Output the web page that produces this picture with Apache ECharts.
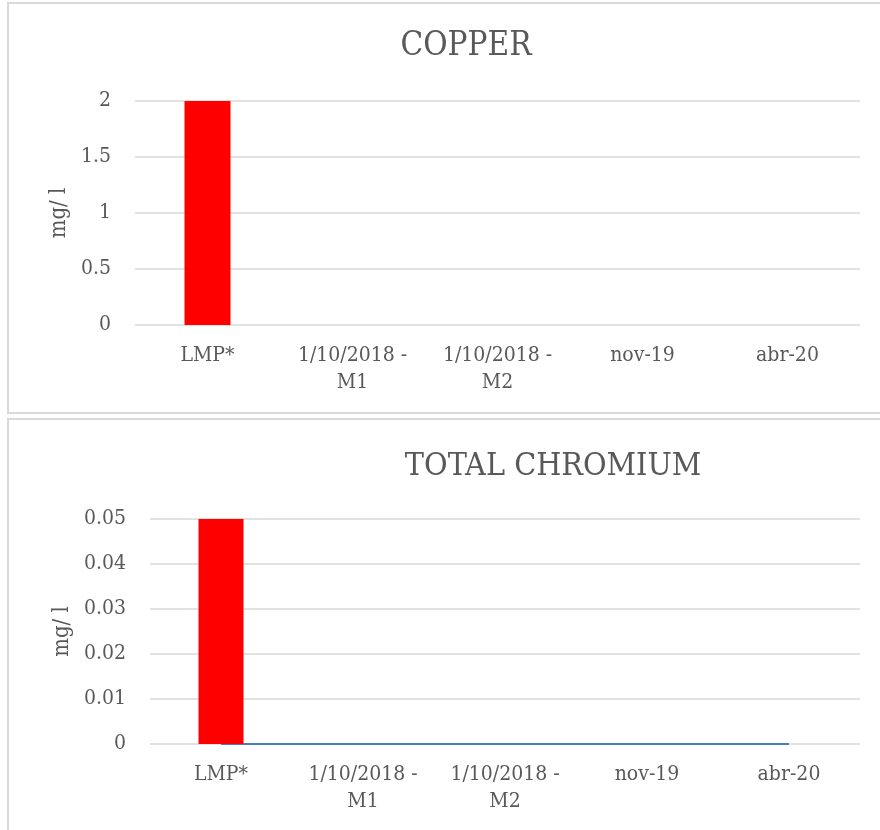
<!DOCTYPE html>
<html>
<head>
<meta charset="utf-8">
<script src="https://cdn.jsdelivr.net/npm/echarts@6/dist/echarts.min.js"></script>
<style>
  html, body { margin: 0; padding: 0; background: #fff; }
  #chart { width: 880px; height: 830px; }
</style>
</head>
<body>
<div id="chart"></div>
<script>
// datos
var categories = ['LMP*', '1/10/2018 -\nM1', '1/10/2018 -\nM2', 'nov-19', 'abr-20'];
var copperLmp = [2, null, null, null, null];
var chromiumLmp = [0.05, null, null, null, null];
var chromiumMeasured = [0, 0, 0, 0, 0];
var copperTicks = { min: 0, max: 2, interval: 0.5 };
var chromiumTicks = { min: 0, max: 0.05, interval: 0.01 };

var font = "'DejaVu Serif Condensed', 'DejaVu Serif', serif";
var grey = '#595959';

var chart = echarts.init(document.getElementById('chart'));

function xAxisFor(gridIndex) {
    return {
        type: 'category',
        gridIndex: gridIndex,
        data: categories,
        axisLine: { show: false },
        axisTick: { show: false },
        axisLabel: {
            color: grey,
            fontFamily: font,
            fontSize: 21,
            lineHeight: 27,
            margin: 17,
            interval: 0
        }
    };
}

function yAxisFor(gridIndex, ticks, gap) {
    return {
        type: 'value',
        gridIndex: gridIndex,
        min: ticks.min,
        max: ticks.max,
        interval: ticks.interval,
        name: 'mg/ l',
        nameLocation: 'middle',
        nameGap: gap,
        nameTextStyle: { color: grey, fontFamily: font, fontSize: 22 },
        axisLine: { show: false },
        axisTick: { show: false },
        axisLabel: { color: grey, fontFamily: font, fontSize: 21, margin: 24 },
        splitLine: { lineStyle: { color: '#d9d9d9', width: 1.5 } }
    };
}

chart.setOption({
    backgroundColor: '#fff',
    animation: false,
    graphic: [
        { type: 'rect', shape: { x: 8, y: 3, width: 880, height: 410 },
          style: { fill: 'none', stroke: '#d9d9d9', lineWidth: 2 } },
        { type: 'rect', shape: { x: 8, y: 419, width: 880, height: 420 },
          style: { fill: 'none', stroke: '#d9d9d9', lineWidth: 2 } }
    ],
    title: [
        { text: 'COPPER', left: 461, top: 25, textAlign: 'center',
          textStyle: { color: grey, fontFamily: font, fontSize: 33, fontWeight: 'normal' } },
        { text: 'TOTAL CHROMIUM', left: 548, top: 446, textAlign: 'center',
          textStyle: { color: grey, fontFamily: font, fontSize: 32, fontWeight: 'normal' } }
    ],
    grid: [
        { left: 135, right: 20, top: 101, height: 224 },
        { left: 150, right: 20, top: 519, height: 225 }
    ],
    xAxis: [xAxisFor(0), xAxisFor(1)],
    yAxis: [yAxisFor(0, copperTicks, 63), yAxisFor(1, chromiumTicks, 75)],
    series: [
        { type: 'bar', xAxisIndex: 0, yAxisIndex: 0, data: copperLmp,
          barWidth: 46, itemStyle: { color: '#ff0000' }, z: 3 },
        { type: 'line', xAxisIndex: 1, yAxisIndex: 1, data: chromiumMeasured,
          showSymbol: false, lineStyle: { color: '#4a7ebb', width: 2 }, z: 2 },
        { type: 'bar', xAxisIndex: 1, yAxisIndex: 1, data: chromiumLmp,
          barWidth: 45, itemStyle: { color: '#ff0000' }, z: 3 }
    ]
});
</script>
</body>
</html>
